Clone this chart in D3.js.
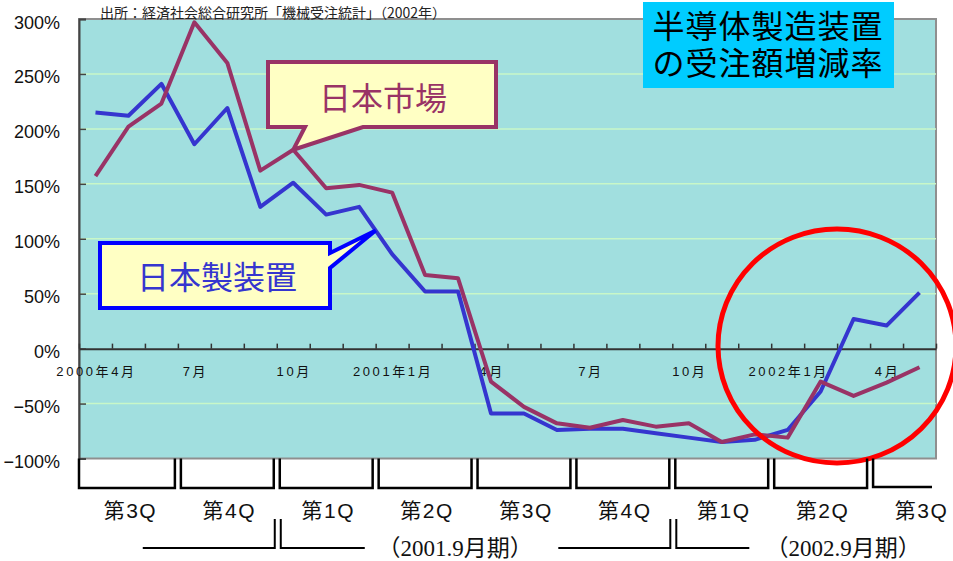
<!DOCTYPE html>
<html lang="ja">
<head>
<meta charset="utf-8">
<title>半導体製造装置の受注額増減率</title>
<script src="https://cdn.jsdelivr.net/npm/d3@7"></script>
<style>
  body{margin:0;background:#fff;}
  svg{display:block;font-family:"Liberation Sans","Noto Sans CJK JP",sans-serif;}
</style>
</head>
<body>
<svg id="chart" width="953" height="561"></svg>
<script>
// DATA ---------------------------------------------
var months = ['2000年4月','5月','6月','7月','8月','9月','10月','11月','12月',
	'2001年1月','2月','3月','4月','5月','6月','7月','8月','9月','10月','11月','12月',
	'2002年1月','2月','3月','4月','5月'];
var equipJapan = [215,212,241,186,219,129,151,122,129,86,52,52,-59,-59,-74,-73,-73,-77,-81,-85,-83,-74,-39,27,21,51];
var marketJapan = [157,202,223,297,260,162,181,146,149,142,67,64,-30,-53,-68,-72,-65,-71,-68,-85,-78,-81,-30,-43,-31,-17];
var yTicks = [-100,-50,0,50,100,150,200,250,300];
var quarters = ['第3Q','第4Q','第1Q','第2Q','第3Q','第4Q','第1Q','第2Q','第3Q'];
var fiscalYears = ['（2001.9月期）','（2002.9月期）'];

var plotL = 79, plotR = 936, plotT = 19, plotB = 458.5;
var jp = '"Noto Sans CJK JP",sans-serif';

var svg = d3.select('#chart');

var x = d3.scaleBand()
	.domain(d3.range(months.length))
	.range([plotL,plotR]);

// same range, month boundaries as numbers
var xLin = d3.scaleLinear()
	.domain([0,months.length])
	.range([plotL,plotR]);

var y = d3.scaleLinear()
	.domain([-100,300])
	.range([plotB,plotT]);

var cx = function(i){ return x(i)+x.bandwidth()/2; };

// PLOT AREA ----------------------------------------
svg.append('rect')
	.attr('x',plotL).attr('y',plotT)
	.attr('width',plotR-plotL).attr('height',plotB-plotT)
	.attr('fill','#a1dfdf')
	.attr('stroke','#8f8f8f')
	.attr('stroke-width',2);

svg.append('g')
	.selectAll('line')
	.data(yTicks.filter(function(d){ return d!=0 && d!=-100 && d!=300; }))
	.enter()
	.append('line')
	.attr('x1',plotL).attr('x2',plotR)
	.attr('y1',function(d){ return y(d); })
	.attr('y2',function(d){ return y(d); })
	.attr('stroke','#c8f7c8')
	.attr('stroke-width',1.5);

// y axis
var yAxis = svg.append('g')
	.attr('transform','translate('+plotL+',0)')
	.call(d3.axisLeft(y).tickValues(yTicks).tickSize(-7).tickPadding(19)
		.tickFormat(function(d){ return d3.format('d')(d)+'%'; }));
yAxis.select('.domain').attr('stroke','#444').attr('stroke-width',2);
yAxis.selectAll('.tick line').attr('stroke','#444').attr('stroke-width',1.5);
yAxis.selectAll('.tick text')
	.attr('dy','0.5em')
	.style('font-size','18px')
	.style('font-family','"Liberation Sans",sans-serif')
	.attr('fill','#111');

// zero line with month ticks
var xAxis = svg.append('g')
	.attr('transform','translate(0,'+y(0)+')')
	.call(d3.axisTop(xLin).ticks(months.length).tickSize(5).tickSizeOuter(0).tickFormat(''));
xAxis.select('.domain').attr('stroke','#333').attr('stroke-width',2);
xAxis.selectAll('.tick line').attr('stroke','#333').attr('stroke-width',1.5);

svg.append('g')
	.selectAll('text')
	.data(months.map(function(m,i){ return {m:m,i:i}; }).filter(function(d){ return d.i%3==0; }))
	.enter()
	.append('text')
	.attr('x',function(d){ return cx(d.i)+1; })
	.attr('y',y(0)+23)
	.attr('text-anchor','middle')
	.attr('dominant-baseline','central')
	.style('font-size','13px')
	.style('letter-spacing','2.6px')
	.attr('fill','#111')
	.text(function(d){ return d.m; });

// LINES --------------------------------------------
var line = d3.line()
	.x(function(d,i){ return cx(i); })
	.y(function(d){ return y(d); });

svg.append('path')
	.datum(equipJapan)
	.attr('d',line)
	.attr('fill','none')
	.attr('stroke','#3535cf')
	.attr('stroke-width',4)
	.attr('stroke-linejoin','round');

svg.append('path')
	.datum(marketJapan)
	.attr('d',line)
	.attr('fill','none')
	.attr('stroke','#993366')
	.attr('stroke-width',4)
	.attr('stroke-linejoin','round');

// CALLOUTS -----------------------------------------
var tipM = [cx(6), y(marketJapan[6])];
svg.append('path')
	.attr('d','M268,62 H496 V127 H363 L'+tipM[0]+','+tipM[1]+' L305,127 H268 Z')
	.attr('fill','#ffffc4')
	.attr('stroke','#993366')
	.attr('stroke-width',4)
	.attr('stroke-linejoin','miter');
svg.append('text')
	.attr('x',383).attr('y',96)
	.attr('text-anchor','middle')
	.attr('dominant-baseline','central')
	.style('font-family',jp)
	.style('font-size','32px')
	.attr('fill','#993366')
	.text('日本市場');

var tipE = [(cx(8)+cx(9))/2, (y(equipJapan[8])+y(equipJapan[9]))/2];
svg.append('path')
	.attr('d','M100,243 H330 V253 L'+tipE[0]+','+tipE[1]+' L330,268 V308 H100 Z')
	.attr('fill','#ffffc4')
	.attr('stroke','#0000ff')
	.attr('stroke-width',4);
svg.append('text')
	.attr('x',217).attr('y',275)
	.attr('text-anchor','middle')
	.attr('dominant-baseline','central')
	.style('font-family',jp)
	.style('font-size','32px')
	.attr('fill','#3535cf')
	.text('日本製装置');

// title box, one text wrapped on two lines
svg.append('rect')
	.attr('x',643).attr('y',2)
	.attr('width',251).attr('height',86)
	.attr('fill','#00ccff');
var title = svg.append('text')
	.attr('x',768)
	.attr('y',38)
	.attr('text-anchor','middle')
	.style('font-family',jp)
	.style('font-size','32px')
	.style('letter-spacing','1px')
	.attr('fill','#000');
title.selectAll('tspan')
	.data(['半導体製造装置','の受注額増減率'])
	.enter()
	.append('tspan')
	.attr('x',768)
	.attr('dy',function(d,i){ return i==0 ? 0 : 37; })
	.text(function(d){ return d; });

// source
svg.append('text')
	.attr('x',100).attr('y',12)
	.attr('dominant-baseline','central')
	.style('font-family',jp)
	.style('font-size','14px')
	.attr('fill','#222')
	.text('出所：経済社会総合研究所「機械受注統計」（2002年）');

// red circle
svg.append('ellipse')
	.attr('cx',837).attr('cy',346)
	.attr('rx',119).attr('ry',117)
	.attr('fill','none')
	.attr('stroke','#ff0000')
	.attr('stroke-width',5);

// QUARTER BRACKETS ---------------------------------
var qY = 488;
svg.append('g')
	.selectAll('path')
	.data(quarters)
	.enter()
	.append('path')
	.attr('d',function(d,q){
		var s = 3*q, e = Math.min(3*q+3,months.length);
		var x0 = q==0 ? xLin(s) : xLin(s)+3;
		if(e<3*q+3){
			return 'M'+x0+','+plotB+' V'+(qY-1)+' H'+(plotR-4);
		}
		return 'M'+x0+','+plotB+' V'+qY+' H'+(xLin(e)-3)+' V'+plotB;
	})
	.attr('fill','none')
	.attr('stroke','#000')
	.attr('stroke-width',2.5);

svg.append('g')
	.selectAll('text')
	.data(quarters)
	.enter()
	.append('text')
	.attr('x',function(d,q){ return xLin(3*q+1.5)+2; })
	.attr('y',510)
	.attr('text-anchor','middle')
	.attr('dominant-baseline','central')
	.style('font-size','21px')
	.style('letter-spacing','1.5px')
	.attr('fill','#111')
	.text(function(d){ return d; });

// FISCAL YEAR BRACKETS -----------------------------
var fy = [
	{b:xLin(6), l:134, r:88, label:fiscalYears[0], lx:455},
	{b:xLin(18), l:114, r:77, label:fiscalYears[1], lx:843}
];
var fyG = svg.append('g');
fy.forEach(function(f){
	fyG.append('path')
		.attr('d','M'+(f.b-f.l)+',548 H'+(f.b-2)+' V519 M'+(f.b+4)+',519 V548 H'+(f.b+f.r))
		.attr('fill','none')
		.attr('stroke','#000')
		.attr('stroke-width',2);
	fyG.append('text')
		.attr('x',f.lx).attr('y',548)
		.attr('text-anchor','middle')
		.attr('dominant-baseline','central')
		.style('font-family','"Liberation Serif","Noto Sans CJK JP",serif')
		.style('font-size','23px')
		.attr('fill','#111')
		.text(f.label);
});
</script>
</body>
</html>
